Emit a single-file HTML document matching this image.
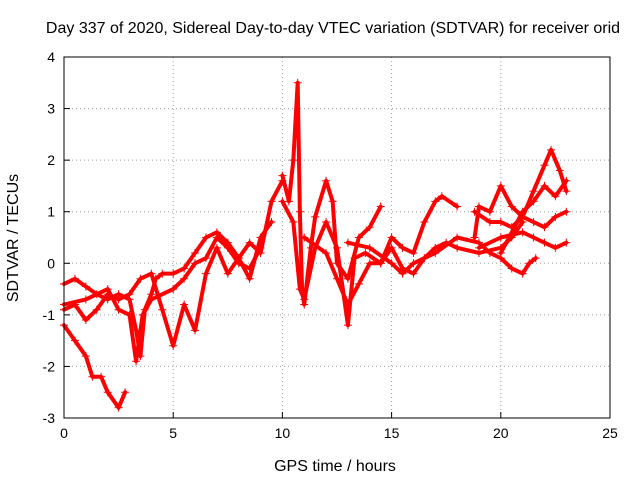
<!DOCTYPE html>
<html><head><meta charset="utf-8"><style>
body{margin:0;background:#fff;font-family:"Liberation Sans",sans-serif;}
svg text{font-family:"Liberation Sans",sans-serif;font-size:14px;fill:#000;}
svg text.big{font-size:16px;}
</style></head><body>
<svg id="chart" width="640" height="480" xmlns="http://www.w3.org/2000/svg">
<text class="big" x="333" y="33" text-anchor="middle">Day 337 of 2020, Sidereal Day-to-day VTEC variation (SDTVAR) for receiver orid</text>
<g id="grid"></g>
<g id="series"></g>
<rect x="64" y="57" width="546" height="361" fill="none" stroke="#000" stroke-width="1"/>
<g id="ticks"></g>
<text class="big" x="335" y="471" text-anchor="middle">GPS time / hours</text>
<text class="big" transform="translate(18,238) rotate(-90)" text-anchor="middle">SDTVAR / TECUs</text>
</svg>
<script>
const xTicks=[0,5,10,15,20,25];
const yTicks=[-3,-2,-1,0,1,2,3,4];
const trackA=[[0,-1.2],[0.5,-1.5],[1,-1.8],[1.3,-2.2],[1.7,-2.2],[2,-2.5],[2.5,-2.8],[2.8,-2.5]];
const trackB=[[0,-0.4],[0.5,-0.3],[1,-0.45],[1.5,-0.6],[2,-0.7],[2.5,-0.6],[3,-0.7],[3.3,-1.3],[3.5,-1.8],[3.7,-0.9],[4,-0.6],[4.2,-0.3],[4.5,-0.2],[5,-0.2],[5.5,-0.1],[6,0.2],[6.5,0.5],[7,0.6],[7.5,0.4],[8,0.1],[8.5,0.4],[9,0.2],[9.5,1.2],[10,1.6]];
const trackC=[[0,-0.9],[0.5,-0.8],[1,-1.1],[1.5,-0.9],[2,-0.6],[2.5,-0.7],[3,-0.6],[3.5,-0.3],[4,-0.2],[4.5,-0.9],[5,-1.6],[5.5,-0.8],[6,-1.3],[6.5,-0.2],[7,0.3],[7.5,-0.2],[8,0.1],[8.5,-0.3],[9,0.5],[9.5,0.8]];
const trackD=[[0,-0.8],[1,-0.7],[2,-0.5],[2.5,-0.9],[3,-1],[3.3,-1.9],[3.6,-1],[4,-0.7],[5,-0.5],[5.5,-0.3],[6,0],[6.5,0.1],[7,0.5],[7.5,0.3],[8,0],[8.5,-0.1],[9,0.3]];
const trackE=[[10,1.7],[10.3,1.2],[10.5,2],[10.7,3.5],[10.8,1],[10.9,-0.5],[11,-0.8],[11.3,0.3],[11.5,0.9],[12,1.6],[12.3,1.2],[12.5,0],[13,-0.3],[13.5,0.5],[14,0.7],[14.5,1.1]];
const trackF=[[10,1.2],[10.5,0.8],[10.8,-0.5],[11,-0.7],[11.5,0.3],[12,0.8],[12.5,0.3],[13,-1.2],[13.3,0.1],[13.8,0.2],[14.5,0],[15,0.5],[15.5,0.3],[16,0.2],[16.5,0.8],[17,1.2],[17.3,1.3],[18,1.1]];
const trackG=[[11,0.5],[12,0.2],[12.5,-0.3],[13,-0.8],[13.5,-0.4],[14,0],[14.5,0],[15,0.3],[15.5,-0.1],[16,-0.2],[16.5,0.1],[17,0.3],[17.5,0.4],[18,0.3],[19,0.2],[20,0.3],[20.5,0.5],[21,0.8]];
const trackH=[[13,0.4],[14,0.3],[15,0],[15.5,-0.2],[16,0],[17,0.2],[18,0.5],[19,0.4],[19.5,0.2],[20,0.1],[20.5,-0.1],[21,-0.2],[21.3,0],[21.6,0.1]];
const trackI=[[18.8,0.5],[19,1.1],[19.5,1],[20,1.5],[20.5,1.1],[21,0.9],[21.5,1.4],[22,1.9],[22.3,2.2],[22.7,1.8],[23,1.4]];
const trackJ=[[18.8,1],[19.5,0.8],[20,0.8],[20.5,0.7],[21,0.9],[21.5,0.8],[22,0.7],[22.5,0.9],[23,1]];
const trackK=[[19,0.3],[20,0.5],[21,0.6],[21.5,0.5],[22,0.4],[22.5,0.3],[23,0.4]];
const trackL=[[20,0.2],[21,1],[21.5,1.2],[22,1.5],[22.5,1.3],[23,1.6]];
const tracks=[trackA,trackB,trackC,trackD,trackE,trackF,trackG,trackH,trackI,trackJ,trackK,trackL];

const NS="http://www.w3.org/2000/svg";
const X0=64,X1=610,Y0=418,Y1=57;
const sx=v=>X0+(v-0)/(25-0)*(X1-X0);
const sy=v=>Y0-(v+3)/7*(Y0-Y1);
function mk(tag,attrs,parent){const e=document.createElementNS(NS,tag);for(const k in attrs)e.setAttribute(k,attrs[k]);parent.appendChild(e);return e;}
const grid=document.getElementById('grid'),ticks=document.getElementById('ticks'),ser=document.getElementById('series');
xTicks.forEach(t=>{
  const x=sx(t);
  if(t>0&&t<25){const g=mk('line',{x1:x,x2:x,y1:Y0,y2:Y1,stroke:'#a0a0a0','stroke-dasharray':'1,3'},grid);
  
  }
  const tk=mk('line',{x1:x,x2:x,y1:Y0,y2:Y0-6,stroke:'#000'},ticks);
  
  
  const l=mk('text',{x:x,y:Y0+20,'text-anchor':'middle'},ticks);l.textContent=t;
  
  
});
yTicks.forEach(t=>{
  const y=sy(t);
  if(t>-3&&t<4){const g=mk('line',{x1:X0,x2:X1,y1:y,y2:y,stroke:'#a0a0a0','stroke-dasharray':'1,3'},grid);
  
  }
  const tk=mk('line',{x1:X0,x2:X0+6,y1:y,y2:y,stroke:'#000'},ticks);
  
  
  const l=mk('text',{x:X0-9,y:y+5,'text-anchor':'end'},ticks);l.textContent=t;
  
  
});
tracks.forEach((tr,i)=>{
  const p=mk('polyline',{points:tr.map(d=>sx(d[0])+','+sy(d[1])).join(' '),fill:'none',stroke:'#ff0000','stroke-width':4,'stroke-linejoin':'round','stroke-linecap':'round'},ser);
  
  
  tr.forEach(d=>{
    const x=sx(d[0]),y=sy(d[1]);
    const m=mk('path',{d:`M${x-4},${y}H${x+4}M${x},${y-4}V${y+4}`,stroke:'#ff0000','stroke-width':1},ser);
    
    
  });
});
</script>
</body></html>
